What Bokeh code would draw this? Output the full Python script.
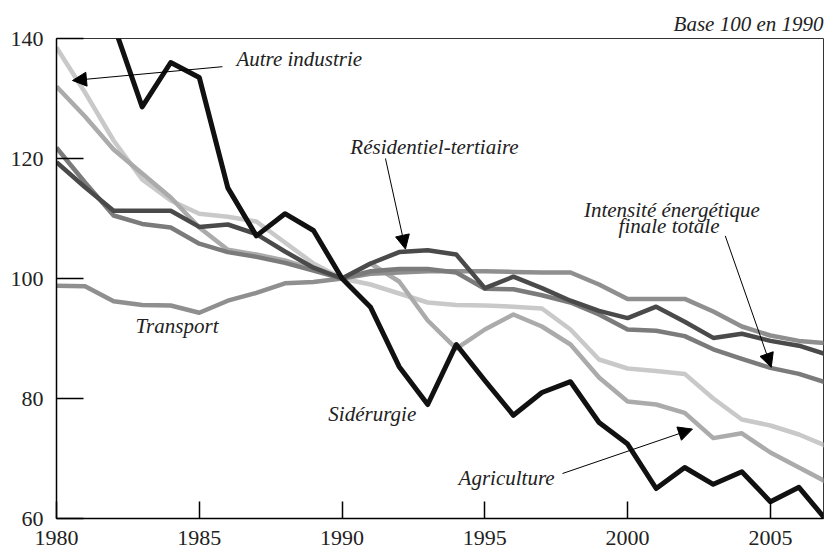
from bokeh.plotting import figure
from bokeh.models import Range1d, FixedTicker, Label, Arrow, NormalHead
from bokeh.embed import file_html
from bokeh.resources import INLINE

years = list(range(1980, 2008))

siderurgie = [150.0, 146.0, 142.3, 128.6, 136.0, 133.5, 115.1, 107.1, 110.8, 108.0,
              100.0, 95.2, 85.3, 79.0, 89.0, 83.0, 77.2, 81.0, 82.8, 76.0,
              72.4, 65.0, 68.5, 65.7, 67.8, 62.8, 65.2, 59.5]
residentiel = [119.4, 115.2, 111.3, 111.3, 111.3, 108.6, 109.0, 107.4, 104.5, 101.8,
               100.0, 102.5, 104.4, 104.7, 104.0, 98.4, 100.3, 98.4, 96.3, 94.6,
               93.4, 95.3, 92.8, 90.1, 90.8, 89.6, 88.8, 87.3]
intensite = [121.8, 116.0, 110.5, 109.1, 108.5, 105.8, 104.4, 103.6, 102.6, 101.3,
             100.0, 101.2, 101.6, 101.6, 101.0, 98.3, 98.2, 97.2, 96.0, 94.0,
             91.5, 91.3, 90.4, 88.2, 86.6, 85.1, 84.1, 82.6]
transport = [98.8, 98.7, 96.2, 95.6, 95.5, 94.3, 96.3, 97.6, 99.2, 99.4,
             100.0, 100.8, 101.0, 101.2, 101.2, 101.2, 101.1, 101.0, 101.0, 99.0,
             96.6, 96.6, 96.6, 94.5, 92.0, 90.5, 89.6, 89.2]
autre_industrie = [138.5, 131.0, 123.0, 116.5, 113.0, 110.8, 110.3, 109.5, 106.0, 102.5,
                   100.0, 99.0, 97.5, 96.0, 95.6, 95.5, 95.3, 95.0, 91.5, 86.5,
                   85.0, 84.6, 84.1, 80.0, 76.5, 75.5, 74.0, 72.0]
agriculture = [132.0, 127.0, 121.5, 117.5, 113.5, 108.5, 104.8, 104.0, 103.0, 101.5,
               100.0, 102.5, 99.5, 93.0, 88.3, 91.5, 94.0, 92.0, 89.0, 83.5,
               79.5, 79.0, 77.6, 73.4, 74.2, 71.0, 68.5, 66.0]

series = [
    (autre_industrie, "#c9c9c9", 4.5),
    (agriculture, "#ababab", 4.5),
    (transport, "#8f8f8f", 4.5),
    (intensite, "#7b7b7b", 4.5),
    (residentiel, "#4a4a4a", 4.5),
    (siderurgie, "#111111", 5),
]

x_ticks = [1980, 1985, 1990, 1995, 2000, 2005]
y_ticks = [60, 80, 100, 120, 140]

labels_left = [
    ("Autre industrie", 1986.30, 136.6),
    ("Résidentiel-tertiaire", 1990.29, 122.0),
    ("Transport", 1982.77, 92.1),
    ("Sidérurgie", 1989.52, 77.4),
    ("Agriculture", 1994.08, 66.7),
]
labels_center = [
    ("Intensité énergétique", 2001.55, 111.4),
    ("finale totale", 2001.45, 108.7),
]
arrows = [
    (1985.81, 135.3, 1980.56, 133.0),
    (1991.52, 120.0, 1992.22, 104.9),
    (2003.42, 107.1, 2005.03, 85.2),
    (1997.72, 67.5, 2002.27, 74.9),
]

FONT = "Liberation Serif"

p = figure(width=828, height=552, output_backend="svg", toolbar_location=None,
           x_range=Range1d(1980, 2006.86), y_range=Range1d(60, 140),
           min_border_left=56, min_border_right=5, min_border_top=38, min_border_bottom=34)
p.background_fill_color = "white"
p.border_fill_color = "white"
p.outline_line_color = "#333333"
p.outline_line_width = 1
p.xgrid.grid_line_color = None
p.ygrid.grid_line_color = None

p.title.text = "Base 100 en 1990"
p.title.align = "right"
p.title.text_font = FONT
p.title.text_font_style = "italic"
p.title.text_font_size = "21px"
p.title.text_color = "#222222"
p.title.standoff = 6

for vals, col, w in series:
    p.line(years, vals, line_color=col, line_width=w, line_join="round")

for ax, ticks, tin in ((p.xaxis[0], x_ticks, 17), (p.yaxis[0], y_ticks, 27)):
    ax.ticker = FixedTicker(ticks=ticks)
    ax.major_tick_in = tin
    ax.major_tick_out = 0
    ax.minor_tick_line_color = None
    ax.axis_line_color = "black"
    ax.axis_line_width = 1.5
    ax.major_tick_line_color = "black"
    ax.major_tick_line_width = 1.5
    ax.major_label_text_font = FONT
    ax.major_label_text_font_size = "22px"
    ax.major_label_text_color = "#222222"
p.xaxis[0].major_label_standoff = 12
p.yaxis[0].major_label_standoff = 13

for t, x, y in labels_left:
    p.add_layout(Label(x=x, y=y, text=t, text_font=FONT, text_font_style="italic",
                       text_font_size="21px", text_color="#222222",
                       text_align="left", text_baseline="middle"))
for t, x, y in labels_center:
    p.add_layout(Label(x=x, y=y, text=t, text_font=FONT, text_font_style="italic",
                       text_font_size="21px", text_color="#222222",
                       text_align="center", text_baseline="middle"))
for xs, ys, xe, ye in arrows:
    p.add_layout(Arrow(x_start=xs, y_start=ys, x_end=xe, y_end=ye, line_width=1,
                       line_color="black",
                       end=NormalHead(size=14, fill_color="black", line_color="black")))

open("out.html", "w").write(file_html(p, INLINE))
